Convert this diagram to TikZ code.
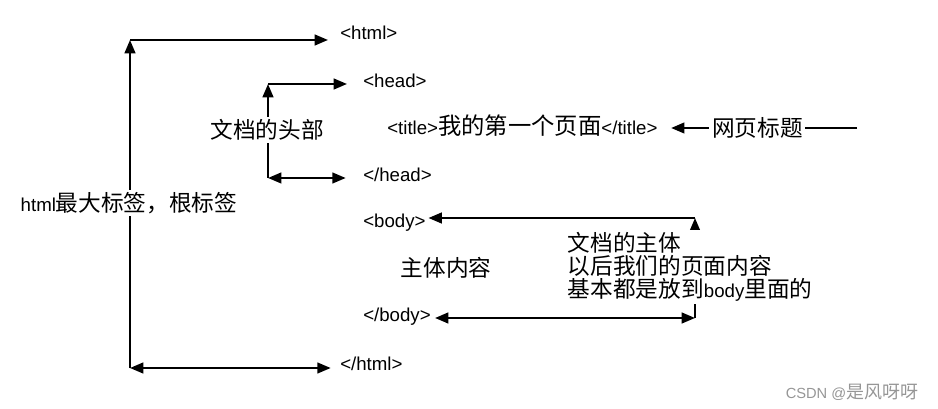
\documentclass[tikz,border=0pt]{standalone}
\usepackage{fontspec}
\setmainfont{Liberation Sans}
\newfontfamily\cjk{Noto Sans CJK SC}
\usetikzlibrary{arrows.meta}

\newcommand\entxt[1]{{\rmfamily\fontsize{14}{14}\selectfont #1}}
\newcommand\zhtxt[1]{{\cjk\fontsize{17.5}{17.5}\selectfont #1}}
\definecolor{marca}{RGB}{150,150,150}

\begin{document}
\begin{tikzpicture}[
    x=0.75pt, y=-0.75pt,
    font=\fontsize{14}{16}\selectfont,
    tag/.style={anchor=base west,inner sep=0pt},
    zh/.style={font=\cjk\fontsize{17}{17.3}\selectfont},
    lbl/.style={zh,fill=white,inner sep=2pt},
    arco/.style={line width=1.6pt,-{Triangle[length=10pt,width=8pt]}},
    doble/.style={line width=1.6pt,{Triangle[length=10pt,width=8pt]}-{Triangle[length=10pt,width=8pt]}}]

  \useasboundingbox (0,0) rectangle (938,409);

  %% corners of the brackets
  \coordinate (htop) at (130,40);
  \coordinate (hbot) at (130,368);
  \coordinate (dtop) at (268,84);
  \coordinate (dbot) at (268,178);
  \coordinate (btop) at (695,218);
  \coordinate (bbot) at (695,318);
  \coordinate (ttail) at (857,128);

  %% tags
  \node[tag] (html)    at (340,40)  {<html>};
  \node[tag] (head)    at (363,88)  {<head>};
  \node[tag] (title)   at (387,135) {<title>\zhtxt{我的第一个页面}</title>};
  \node[tag] (headend) at (363,182) {</head>};
  \node[tag] (body)    at (363,228) {<body>};
  \node[tag] (bodyend) at (363,322) {</body>};
  \node[tag] (htmlend) at (340,370) {</html>};

  %% html bracket
  \draw[arco] (hbot) -- (htop);
  \draw[arco,shorten >=9pt] (htop) -- (htop -| html.west);
  \draw[doble,shorten >=7pt] (hbot) -- (hbot -| htmlend.west);

  %% head bracket
  \draw[arco] (dbot) -- (dtop);
  \draw[arco,shorten >=12pt] (dtop) -- (dtop -| head.west);
  \draw[doble,shorten >=13pt] (dbot) -- (dbot -| headend.west);

  %% body bracket
  \draw[arco] (bbot) -- (btop);
  \draw[arco,shorten >=2pt] (btop) -- (btop -| body.east);
  \draw[doble,shorten <=3pt] (bbot -| bodyend.east) -- (bbot);

  %% title pointer
  \draw[arco,shorten >=10pt] (ttail) -- node[lbl] (ttext) {网页标题} (ttail -| title.east);

  %% labels
  \node[lbl] (root) at (129,203) {\entxt{html}最大标签，根标签};
  \node[lbl] (dochead) at (267,130) {文档的头部};
  \node[zh] (bodytext) at (446,268) {主体内容};
  \node[lbl,align=left,anchor=west] (bodynote) at (565,267)
    {文档的主体\\以后我们的页面内容\\基本都是放到\entxt{body}里面的};

  \node[anchor=east,text=marca,font=\fontsize{11}{11}\selectfont] (marca) at (923,392)
    {CSDN @{\cjk\fontsize{13.5}{13.5}\selectfont 是风呀呀}};
\end{tikzpicture}
\end{document}
